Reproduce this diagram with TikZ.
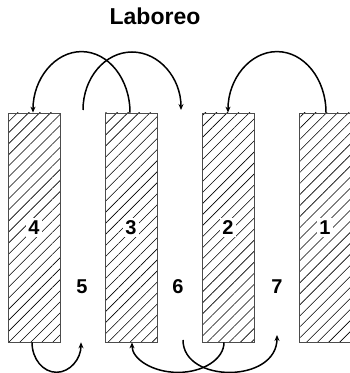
\documentclass[tikz,border=0pt]{standalone}
\usepackage{fontspec}
\setmainfont{Liberation Sans}
\usetikzlibrary{patterns.meta,arrows.meta}
\tikzset{
  rectbox/.style={draw=black!70, line width=0.8pt, minimum width=52pt, minimum height=229pt, inner sep=0pt,
    pattern={Lines[angle=45,distance=7.8pt,line width=0.6pt]}},
  num/.style={fill=white, inner sep=2.5pt, font=\fontsize{20}{22}\selectfont\bfseries},
  gapnum/.style={inner sep=1pt, font=\fontsize{20}{22}\selectfont\bfseries},
  flow/.style={line width=1.5pt, -{Stealth[length=6pt,width=5pt,inset=2pt]}},
}
\begin{document}
\begin{tikzpicture}[x=1pt,y=1pt]
\clip (0,0) rectangle (350,373);
\fill[white] (0,0) rectangle (350,373);
\node[font=\fontsize{23}{26}\selectfont\bfseries, anchor=base] (title) at (155,348) {Laboreo};
% strips
\node[rectbox] (r4) at (34,145.5) {};
\node[rectbox] (r3) at (131,145.5) {};
\node[rectbox] (r2) at (228,145.5) {};
\node[rectbox, minimum width=54pt] (r1) at (326,145.5) {};
\node[num] (n4) at (r4) {4};
\node[num] (n3) at (r3) {3};
\node[num] (n2) at (r2) {2};
\node[num] (n1) at ([xshift=-1pt]r1.center) {1};
\node[gapnum] (n5) at (82,86) {5};
\node[gapnum] (n6) at (178,86) {6};
\node[gapnum] (n7) at (277,86) {7};
% free ends in the gaps
\coordinate (g5top) at (83,263);
\coordinate (g6top) at (181,263);
\coordinate (g5bot) at (82,31);
\coordinate (g6bot) at (183,33);
\coordinate (g7bot) at (277,38);
% top connectors
\draw[flow] ([xshift=-1pt]r3.north) arc[start angle=0, end angle=180, x radius=48.5, y radius=61];
\draw[flow] (g5top) arc[start angle=180, end angle=0, x radius=49, y radius=58];
\draw[flow] (r1.north) arc[start angle=0, end angle=180, x radius=49, y radius=61];
% bottom connectors
\draw[flow] ([xshift=-2pt]r4.south) arc[start angle=180, end angle=360, x radius=24.5, y radius=30];
\draw[flow] (g6bot) .. controls (183,-10.5) and (277,-10.5) .. (g7bot);
\draw[flow] ([xshift=-4pt]r2.south) arc[start angle=0, end angle=-180, x radius=46, y radius=30];
\end{tikzpicture}
\end{document}
